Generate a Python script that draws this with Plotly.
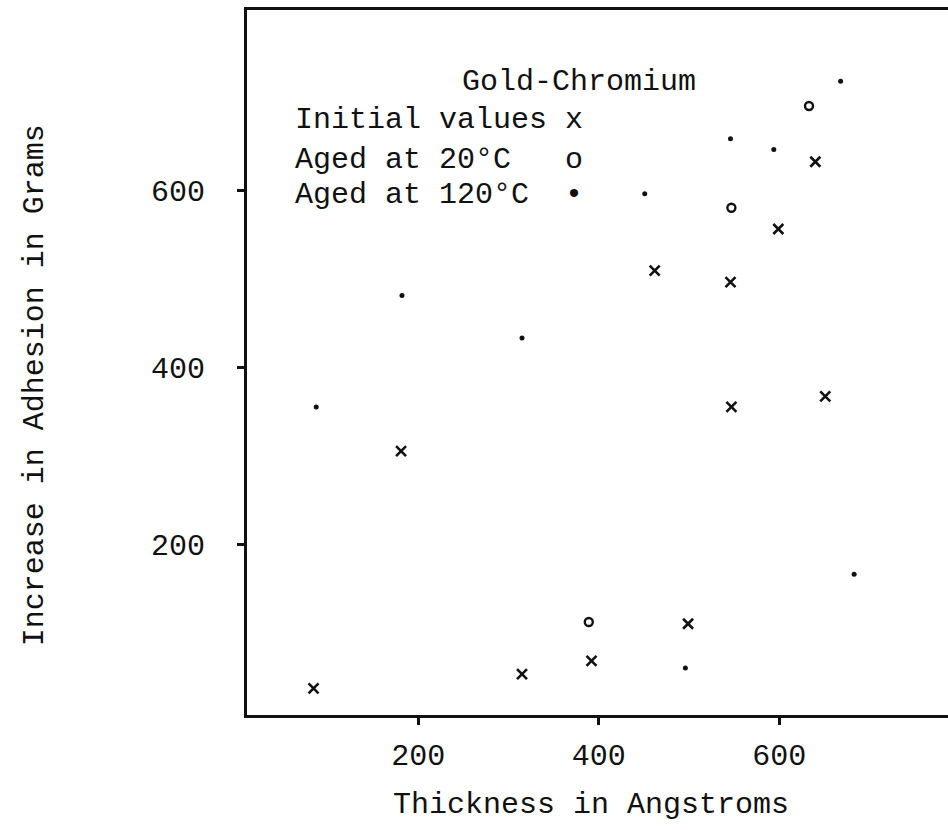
import plotly.graph_objects as go

# Gold-Chromium films: adhesion increase vs. film thickness
initial_x = [84, 181, 315, 392, 462, 499, 546, 547, 599, 640, 651]
initial_y = [38, 306, 54, 69, 510, 111, 497, 356, 557, 633, 368]

aged20_x = [389, 547, 633]
aged20_y = [113, 581, 696]

aged120_x = [87, 182, 315, 451, 496, 546, 594, 668, 683]
aged120_y = [356, 482, 434, 597, 61, 659, 647, 724, 167]

tick_vals = [200, 400, 600]
tick_text = ["200", "400", "600"]

FONT = "Liberation Mono, Courier New, monospace"
INK = "#111111"

fig = go.Figure()

fig.add_trace(go.Scatter(
    x=initial_x, y=initial_y, mode="markers", name="Initial values",
    marker=dict(symbol="x-thin", size=10, color=INK, line=dict(width=2.6, color=INK)),
))
fig.add_trace(go.Scatter(
    x=aged20_x, y=aged20_y, mode="markers", name="Aged at 20°C",
    marker=dict(symbol="circle-open", size=8, color=INK, line=dict(width=2.4, color=INK)),
))
fig.add_trace(go.Scatter(
    x=aged120_x, y=aged120_y, mode="markers", name="Aged at 120°C",
    marker=dict(symbol="circle", size=5, color=INK, line=dict(width=0)),
))

# Typed key inside the plot area
key_lines = [
    ("Gold-Chromium", 0.3040, 0.898),
    ("Initial values x", 0.0656, 0.844),
    ("Aged at 20°C   o", 0.0656, 0.787),
    ("Aged at 120°C  •", 0.0656, 0.738),
]
for text, xp, yp in key_lines:
    fig.add_annotation(
        text=text, xref="paper", yref="paper", x=xp, y=yp,
        xanchor="left", yanchor="middle", showarrow=False,
        font=dict(family=FONT, size=30, color=INK),
    )

# Axis titles
fig.add_annotation(
    text="Thickness in Angstroms", xref="paper", yref="paper",
    x=0.491, y=-0.127, xanchor="center", yanchor="middle", showarrow=False,
    font=dict(family=FONT, size=30, color=INK),
)
fig.add_annotation(
    text="Increase in Adhesion in Grams", xref="paper", yref="paper",
    x=-0.302, y=0.468, xanchor="center", yanchor="middle", textangle=-90,
    showarrow=False, font=dict(family=FONT, size=30, color=INK),
)

fig.update_xaxes(
    range=[10.3, 787], tickmode="array", tickvals=tick_vals, ticktext=tick_text,
    showline=True, linewidth=3, linecolor=INK, mirror=True,
    ticks="outside", ticklen=7, tickwidth=2.5, tickcolor=INK,
    ticklabelstandoff=4,
    showgrid=False, zeroline=False,
    tickfont=dict(family=FONT, size=30, color=INK),
)
fig.update_yaxes(
    range=[7.9, 804.5], tickmode="array", tickvals=tick_vals, ticktext=tick_text,
    showline=True, linewidth=3, linecolor=INK, mirror=False,
    ticks="outside", ticklen=7, tickwidth=2.5, tickcolor=INK,
    ticklabelstandoff=26,
    showgrid=False, zeroline=False,
    tickfont=dict(family=FONT, size=30, color=INK),
)

fig.update_layout(
    width=948, height=830,
    margin=dict(l=247, r=0, t=10, b=115, autoexpand=False),
    paper_bgcolor="white", plot_bgcolor="white",
    showlegend=False,
)

fig.write_html("out.html")
